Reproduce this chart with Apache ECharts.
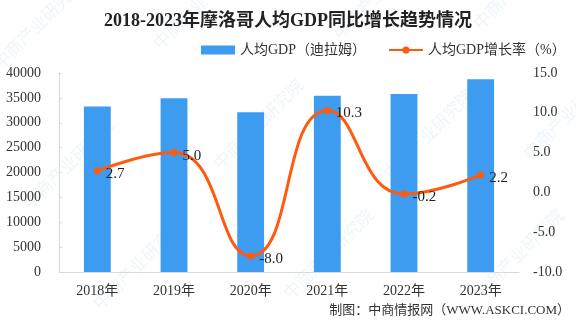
<!DOCTYPE html>
<html>
<head>
<meta charset="utf-8">
<script src="https://cdn.jsdelivr.net/npm/echarts@6/dist/echarts.min.js"></script>
<style>
  html, body { margin: 0; padding: 0; background: #fff; }
  #chart { width: 576px; height: 326px; }
</style>
</head>
<body>
<div id="chart"></div>
<script>
// Morocco GDP per capita, 2018-2023
const years = ['2018年', '2019年', '2020年', '2021年', '2022年', '2023年'];
const gdpPerCapita = [33250, 34930, 32130, 35450, 35800, 38740];   // 迪拉姆
const growthRate = [2.7, 5.0, -8.0, 10.3, -0.2, 2.2];             // %

const serif = '"Liberation Serif", "DejaVu Serif", "Noto Sans CJK SC", serif';
const textColor = '#333';

// faint diagonal watermark text
const marks = [];
const markSpots = [[-10, 60], [150, 40], [330, 30], [470, 20], [20, 200], [210, 160], [380, 170], [520, 150], [90, 300], [280, 290], [470, 290]];
markSpots.forEach(([x, y]) => {
  marks.push({
    type: 'text', x: x, y: y, rotation: Math.PI / 4, silent: true, z: 0,
    style: { text: '中商产业研究院', fill: 'rgba(140,190,230,0.16)', font: '17px "Noto Sans CJK SC"' }
  });
});

const chart = echarts.init(document.getElementById('chart'));
chart.setOption({
  backgroundColor: '#fff',
  animation: false,
  title: {
    text: '2018-2023年摩洛哥人均GDP同比增长趋势情况',
    left: 'center', top: 7,
    textStyle: { fontFamily: serif, fontSize: 18, fontWeight: 'bold', color: '#222' }
  },
  legend: {
    top: 38, left: 196, width: 380, itemGap: 22, itemWidth: 34, itemHeight: 9,
    textStyle: { fontFamily: serif, fontSize: 14, color: textColor },
    data: [
      { name: '人均GDP（迪拉姆）', icon: 'rect' },
      { name: '人均GDP增长率（%）' }
    ]
  },
  graphic: marks.concat([{
    type: 'text', right: 6, top: 304, z: 10,
    style: { text: '制图：中商情报网（WWW.ASKCI.COM）', fill: textColor, font: '13px ' + serif }
  }]),
  grid: { left: 59, right: 57, top: 73, bottom: 54 },
  xAxis: {
    type: 'category', data: years,
    axisLine: { lineStyle: { color: '#d9d9d9' } },
    axisTick: { show: false },
    axisLabel: { fontFamily: serif, fontSize: 14, color: textColor, margin: 12 }
  },
  yAxis: [
    {
      type: 'value', min: 0, max: 40000, interval: 5000,
      axisLine: { show: true, lineStyle: { color: '#d9d9d9' } },
      axisTick: { show: true, inside: true, length: 3, lineStyle: { color: '#d9d9d9' } },
      splitLine: { show: false },
      axisLabel: { fontFamily: serif, fontSize: 14, color: textColor, margin: 18,
        formatter: v => String(v) }
    },
    {
      type: 'value', min: -10, max: 15, interval: 5,
      axisLine: { show: false }, axisTick: { show: false },
      splitLine: { show: false },
      axisLabel: { fontFamily: serif, fontSize: 14, color: textColor, margin: 14,
        formatter: v => v.toFixed(1) }
    }
  ],
  series: [
    {
      name: '人均GDP（迪拉姆）', type: 'bar', data: gdpPerCapita,
      barWidth: '35%', itemStyle: { color: '#3d9cf0' }, z: 2
    },
    {
      name: '人均GDP增长率（%）', type: 'line', yAxisIndex: 1, data: growthRate,
      smooth: 0.5, symbol: 'circle', symbolSize: 7,
      lineStyle: { color: '#ff5a0f', width: 3 },
      itemStyle: { color: '#ff5a0f' }, z: 3,
      label: {
        show: true, position: 'right', distance: 5, offset: [0, 3],
        fontFamily: serif, fontSize: 15, color: '#222',
        formatter: p => p.value.toFixed(1)
      }
    }
  ]
});
</script>
</body>
</html>
